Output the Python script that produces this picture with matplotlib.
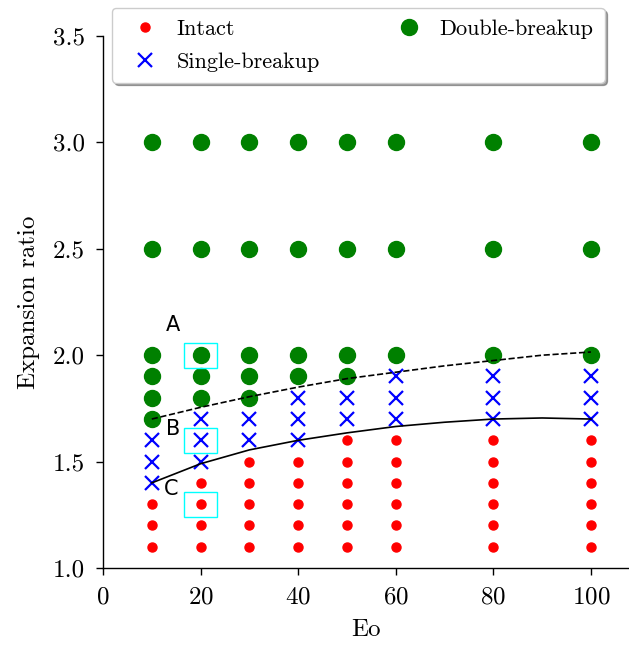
import numpy as np
import matplotlib
matplotlib.use("Agg")
import matplotlib.pyplot as plt
from matplotlib.patches import Rectangle

plt.rcParams['font.family'] = 'serif'
plt.rcParams['font.serif'] = ['cmr10']
plt.rcParams['mathtext.fontset'] = 'cm'
plt.rcParams['axes.formatter.use_mathtext'] = True
plt.rcParams['axes.unicode_minus'] = False

# %%
# regime map data: Eo vs expansion ratio
intact_eo = [10, 10, 10,
             20, 20, 20, 20,
             30, 30, 30, 30, 30,
             40, 40, 40, 40, 40,
             50, 50, 50, 50, 50, 50,
             60, 60, 60, 60, 60, 60,
             80, 80, 80, 80, 80, 80,
             100, 100, 100, 100, 100, 100]
intact_ratio = [1.1, 1.2, 1.3,
                1.1, 1.2, 1.3, 1.4,
                1.1, 1.2, 1.3, 1.4, 1.5,
                1.1, 1.2, 1.3, 1.4, 1.5,
                1.1, 1.2, 1.3, 1.4, 1.5, 1.6,
                1.1, 1.2, 1.3, 1.4, 1.5, 1.6,
                1.1, 1.2, 1.3, 1.4, 1.5, 1.6,
                1.1, 1.2, 1.3, 1.4, 1.5, 1.6]

single_eo = [10, 10, 10,
             20, 20, 20,
             30, 30,
             40, 40, 40,
             50, 50,
             60, 60, 60,
             80, 80, 80,
             100, 100, 100]
single_ratio = [1.4, 1.5, 1.6,
                1.5, 1.6, 1.7,
                1.6, 1.7,
                1.6, 1.7, 1.8,
                1.7, 1.8,
                1.7, 1.8, 1.9,
                1.7, 1.8, 1.9,
                1.7, 1.8, 1.9]

double_eo = [10, 10, 10, 10, 10, 10,
             20, 20, 20, 20, 20,
             30, 30, 30, 30, 30,
             40, 40, 40, 40,
             50, 50, 50, 50,
             60, 60, 60,
             80, 80, 80,
             100, 100, 100]
double_ratio = [1.7, 1.8, 1.9, 2.0, 2.5, 3.0,
                1.8, 1.9, 2.0, 2.5, 3.0,
                1.8, 1.9, 2.0, 2.5, 3.0,
                1.9, 2.0, 2.5, 3.0,
                1.9, 2.0, 2.5, 3.0,
                2.0, 2.5, 3.0,
                2.0, 2.5, 3.0,
                2.0, 2.5, 3.0]

# boundary curves
boundary_eo = [10, 20, 30, 40, 50, 60, 70, 80, 90, 100]
lower_boundary = [1.40, 1.49, 1.555, 1.60, 1.635, 1.665, 1.685, 1.70, 1.705, 1.70]
upper_boundary = [1.70, 1.755, 1.805, 1.85, 1.89, 1.92, 1.95, 1.975, 2.00, 2.015]

# highlighted cases
case_labels = ['A', 'B', 'C']
case_eo = [20, 20, 20]
case_ratio = [2.0, 1.6, 1.3]
label_pos = [(12.8, 2.14), (13.0, 1.655), (12.5, 1.37)]

# %%
fig = plt.figure(figsize=(6.29, 6.46), dpi=100)
ax = fig.add_axes([103 / 629, 78 / 646, 525 / 629, 532 / 646])

ax.plot(intact_eo, intact_ratio, 'o', color='red', markersize=6.5, linestyle='none', label='Intact')
ax.plot(single_eo, single_ratio, 'x', color='blue', markersize=10, markeredgewidth=1.6,
        linestyle='none', label='Single-breakup')
ax.plot(double_eo, double_ratio, 'o', color='green', markersize=11.5, linestyle='none',
        label='Double-breakup')

ax.plot(boundary_eo, upper_boundary, 'k--', linewidth=1.2)
ax.plot(boundary_eo, lower_boundary, 'k-', linewidth=1.2)

# boxes around the cases
for e, r in zip(case_eo, case_ratio):
    ax.add_patch(Rectangle((e - 3.4, r - 0.058), 6.8, 0.116, fill=False,
                           edgecolor='cyan', linewidth=1.0, zorder=5))

for lab, (px, py) in zip(case_labels, label_pos):
    ax.text(px, py, lab, family='DejaVu Sans', fontsize=15, va='center')

ax.set_xlim(0, 107.6)
ax.set_ylim(1.0, 3.5)
ax.set_xticks([0, 20, 40, 60, 80, 100])
ax.set_yticks([1.0, 1.5, 2.0, 2.5, 3.0, 3.5])
ax.set_yticklabels(['1.0', '1.5', '2.0', '2.5', '3.0', '3.5'])
ax.tick_params(labelsize=18, length=5, width=1, pad=8)
for s in ['left', 'bottom']:
    ax.spines[s].set_linewidth(1.0)
ax.spines['top'].set_visible(False)
ax.spines['right'].set_visible(False)
ax.set_xlabel('Eo', fontsize=18, labelpad=8)
ax.set_ylabel('Expansion ratio', fontsize=18, labelpad=9)

ax.legend(loc='upper left', bbox_to_anchor=(112 / 629, 1 - 8 / 646), bbox_transform=fig.transFigure,
          borderaxespad=0, ncol=2, fontsize=16, shadow=True, fancybox=True,
          handletextpad=0.4, columnspacing=3.0, labelspacing=0.6, borderpad=0.5)

fig.savefig('out.png', dpi=100)
